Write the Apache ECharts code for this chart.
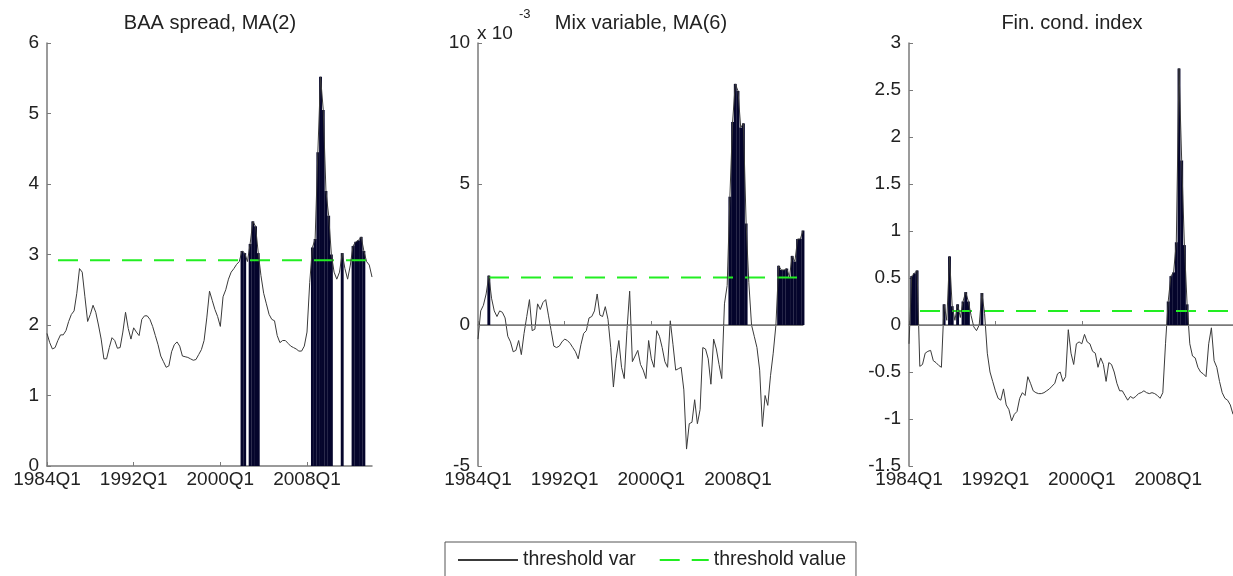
<!DOCTYPE html>
<html>
<head>
<meta charset="utf-8">
<script src="https://cdn.jsdelivr.net/npm/echarts@6/dist/echarts.min.js"></script>
<style>
  html, body { margin: 0; padding: 0; background: #fff; }
  #chart { width: 1233px; height: 576px; }
</style>
</head>
<body>
<div id="chart"></div>
<script>
// quarterly sample 1984Q1 - 2014Q1
var startYear = 1984;
var nQuarters = 121;
var quarters = [];
for (var i = 0; i < nQuarters; i++) {
    quarters.push((startYear + Math.floor(i / 4)) + 'Q' + (i % 4 + 1));
}

var titles = ['BAA spread, MA(2)', 'Mix variable, MA(6)', 'Fin. cond. index'];

// BAA spread, MA(2)
var baaSpread = [
    1.88, 1.75, 1.66, 1.68, 1.78, 1.86, 1.86, 1.92, 2.05, 2.15,
    2.20, 2.45, 2.80, 2.75, 2.40, 2.05, 2.15, 2.28, 2.18, 2.00,
    1.80, 1.52, 1.52, 1.68, 1.82, 1.78, 1.67, 1.68, 1.90, 2.18,
    1.95, 1.80, 1.96, 1.90, 1.85, 2.08, 2.13, 2.13, 2.08, 1.98,
    1.85, 1.72, 1.56, 1.48, 1.40, 1.42, 1.62, 1.72, 1.76, 1.70,
    1.56, 1.55, 1.54, 1.52, 1.50, 1.51, 1.58, 1.65, 1.78, 2.10,
    2.48, 2.35, 2.22, 2.12, 1.98, 2.40, 2.50, 2.65, 2.75, 2.80,
    2.86, 2.90, 3.05, 3.02, 2.90, 3.15, 3.47, 3.40, 3.02, 2.70,
    2.45, 2.30, 2.15, 2.08, 2.06, 1.85, 1.75, 1.78, 1.78, 1.74,
    1.70, 1.68, 1.66, 1.63, 1.63, 1.70, 1.90, 2.60, 3.10, 3.22,
    4.45, 5.52, 5.05, 3.90, 3.55, 3.00, 2.75, 2.65, 2.75, 3.02,
    2.80, 2.65, 2.85, 3.12, 3.18, 3.20, 3.25, 3.05, 2.90, 2.85,
    2.68
];
var baaThreshold = 2.92;

// Mix variable, MA(6), in units of 10^-3
var mixVar = [
    -0.50, 0.50, 0.70, 1.10, 1.75, 0.95, 0.50, 0.30, 0.50, 0.45,
    0.25, -0.40, -0.60, -0.95, -0.90, -0.55, -1.05, -0.30, 0.30, 0.90,
    -0.20, -0.15, 0.75, 0.55, 0.80, 0.90, 0.35, -0.20, -0.75, -0.80,
    -0.75, -0.60, -0.50, -0.55, -0.65, -0.80, -0.95, -1.20, -0.70, -0.30,
    -0.20, 0.25, 0.30, 0.50, 1.10, 0.35, 0.30, 0.65, 0.20, -0.80,
    -2.20, -1.20, -0.55, -1.50, -1.90, -0.20, 1.20, -1.30, -1.10, -0.90,
    -1.40, -1.60, -1.90, -0.55, -1.20, -1.50, -0.20, -0.40, -0.80, -1.30,
    -1.50, 0.15, -0.70, -1.60, -1.55, -1.50, -2.30, -4.40, -3.50, -3.45,
    -2.65, -3.50, -3.00, -0.80, -0.85, -1.20, -2.10, -0.50, -0.85, -1.40,
    -1.90, 0.75, 1.40, 4.55, 7.20, 8.55, 8.30, 7.00, 7.15, 3.60,
    1.50, 0.00, -0.40, -0.80, -1.60, -3.60, -2.50, -2.85, -1.80, -1.00,
    0.00, 2.10, 1.95, 1.95, 2.00, 1.70, 2.45, 2.25, 3.05, 3.05,
    3.35
];
var mixThreshold = 1.68;

// Financial conditions index
var fci = [
    -0.20, 0.52, 0.55, 0.58, -0.44, -0.42, -0.30, -0.28, -0.27, -0.38,
    -0.40, -0.43, -0.45, 0.22, 0.05, 0.73, 0.20, 0.05, 0.22, 0.08,
    0.25, 0.35, 0.25, 0.10, -0.02, -0.06, 0.00, 0.34, 0.12, -0.30,
    -0.50, -0.60, -0.70, -0.78, -0.80, -0.68, -0.85, -0.90, -1.02, -0.95,
    -0.92, -0.78, -0.72, -0.75, -0.55, -0.62, -0.70, -0.72, -0.73, -0.73,
    -0.72, -0.70, -0.68, -0.65, -0.62, -0.52, -0.50, -0.60, -0.55, -0.05,
    -0.30, -0.42, -0.20, -0.18, -0.20, -0.10, -0.18, -0.20, -0.28, -0.30,
    -0.45, -0.35, -0.42, -0.60, -0.40, -0.42, -0.50, -0.62, -0.70, -0.70,
    -0.75, -0.80, -0.76, -0.78, -0.76, -0.73, -0.72, -0.70, -0.72, -0.73,
    -0.72, -0.73, -0.75, -0.78, -0.72, -0.20, 0.25, 0.52, 0.56, 0.88,
    2.73, 1.75, 0.85, 0.22, -0.20, -0.33, -0.35, -0.45, -0.50, -0.52,
    -0.55, -0.20, -0.03, -0.38, -0.45, -0.60, -0.72, -0.78, -0.80, -0.85,
    -0.95
];
var fciThreshold = 0.15;

var panels = [
    { data: baaSpread, thr: baaThreshold, min: 0, max: 6, step: 1, zero: false },
    { data: mixVar, thr: mixThreshold, min: -5, max: 10, step: 5, zero: true },
    { data: fci, thr: fciThreshold, min: -1.5, max: 3, step: 0.5, zero: true }
];
var gridLeft = [47, 478, 909];

var chart = echarts.init(document.getElementById('chart'));
var font = 'Liberation Sans, Arial, sans-serif';
var axisGray = '#7a7a7a';

var grids = [], xAxes = [], yAxes = [], series = [], graphics = [];
panels.forEach(function (p, k) {
    grids.push({ left: gridLeft[k], width: 325, top: 43, height: 423 });
    xAxes.push({
        type: 'category', gridIndex: k, data: quarters, boundaryGap: false,
        axisLine: { lineStyle: { color: axisGray, width: 1.5 } },
        axisTick: { inside: true, length: 4, interval: 31, lineStyle: { color: axisGray } },
        axisLabel: { interval: 31, margin: 4, color: '#222', fontFamily: font, fontSize: 19 }
    });
    yAxes.push({
        type: 'value', gridIndex: k, min: p.min, max: p.max, interval: p.step,
        splitLine: { show: false },
        axisLine: { show: true, onZero: false, lineStyle: { color: axisGray, width: 1.5 } },
        axisTick: { show: true, inside: true, length: 4, lineStyle: { color: axisGray } },
        axisLabel: { margin: 8, color: '#222', fontFamily: font, fontSize: 19 }
    });
    // periods where the threshold variable is above the threshold
    var above = p.data.map(function (v) { return v > p.thr ? v : '-'; });
    var bar = {
        name: 'above threshold', type: 'bar', xAxisIndex: k, yAxisIndex: k,
        data: above, barWidth: 2.9,
        itemStyle: { color: '#05052c' },
        silent: true
    };
    if (p.zero) {
        bar.markLine = {
            silent: true, symbol: 'none', label: { show: false },
            lineStyle: { color: axisGray, type: 'solid', width: 1.2 },
            data: [{ yAxis: 0 }]
        };
    }
    series.push(bar);
    series.push({
        name: 'threshold value', type: 'line', xAxisIndex: k, yAxisIndex: k,
        data: p.data.map(function () { return p.thr; }),
        symbol: 'none',
        lineStyle: { color: '#22ee22', width: 2, type: [20, 12], dashOffset: 21 },
        itemStyle: { color: '#22ee22' }
    });
    series.push({
        name: 'threshold var', type: 'line', xAxisIndex: k, yAxisIndex: k,
        data: p.data, symbol: 'none',
        lineStyle: { color: '#3a3a3a', width: 1 },
        itemStyle: { color: '#3a3a3a' }
    });
    // panel title, centred over the plot area
    graphics.push({
        type: 'text', x: gridLeft[k] + 163, y: 23,
        style: {
            text: titles[k], align: 'center', verticalAlign: 'middle',
            font: '20px ' + font, fill: '#222'
        }
    });
});

// exponent label for the middle panel
graphics.push({
    type: 'text', left: 477, top: 8,
    style: {
        text: '{b|x 10}{s|-3}',
        rich: {
            b: { font: '19px ' + font, fill: '#222', padding: [16, 6, 0, 0] },
            s: { font: '13px ' + font, fill: '#222', verticalAlign: 'top' }
        }
    }
});

var option = {
    animation: false,
    textStyle: { fontFamily: font },
    grid: grids,
    xAxis: xAxes,
    yAxis: yAxes,
    legend: {
        data: ['threshold var', 'threshold value'],
        left: 445, top: 542,
        padding: [8, 10, 10, 12],
        itemWidth: 60, itemHeight: 14, itemGap: 12,
        itemStyle: { opacity: 0 },
        borderColor: '#555', borderWidth: 1,
        textStyle: { fontSize: 19.5, color: '#222', fontFamily: font }
    },
    graphic: graphics,
    series: series
};
chart.setOption(option);
</script>
</body>
</html>
